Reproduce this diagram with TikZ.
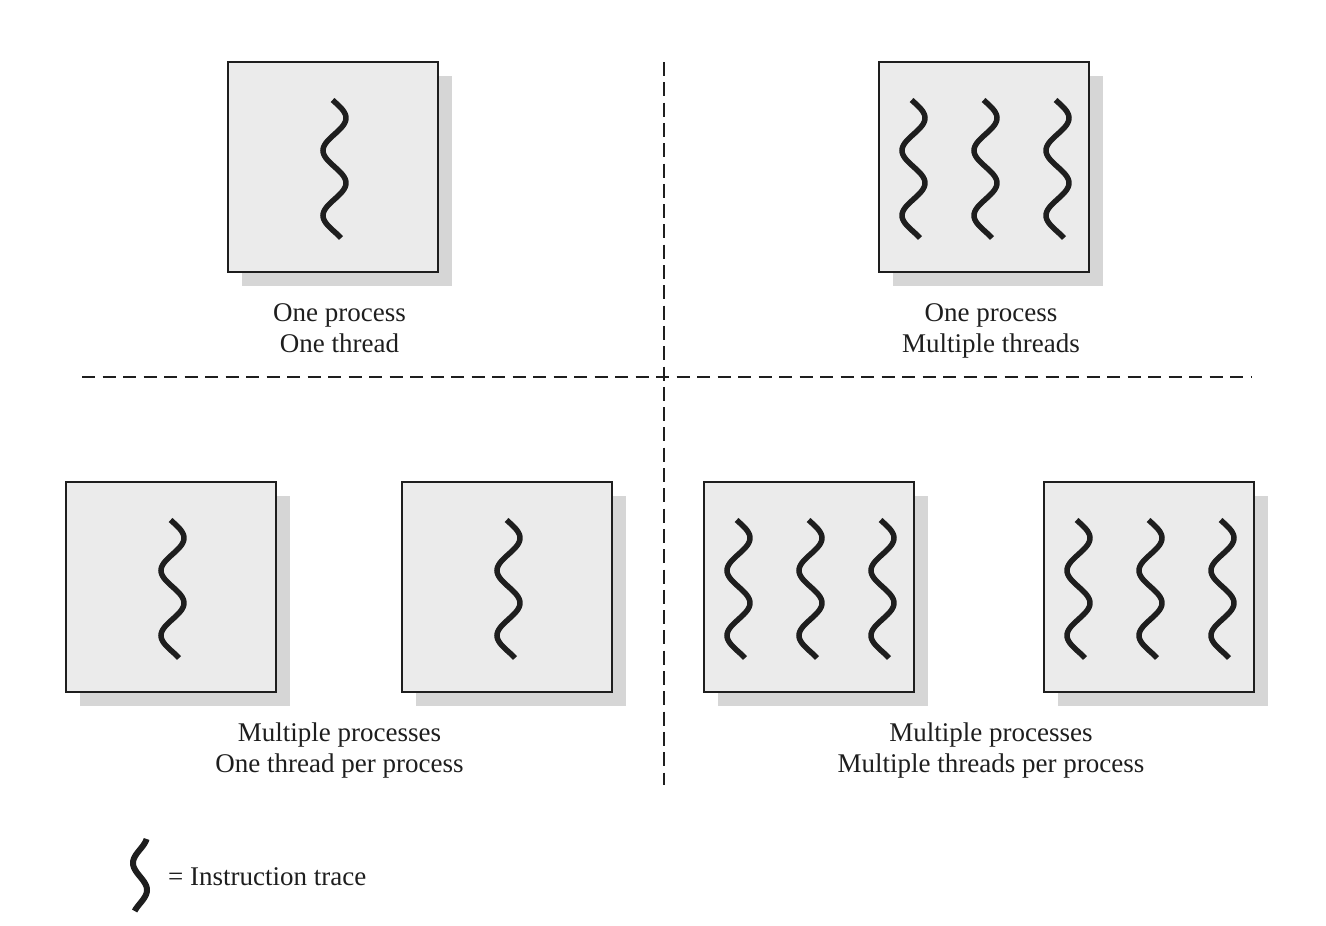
\documentclass[tikz,border=0pt]{standalone}
\usepackage{fontspec}
\setmainfont{Liberation Serif}
\usetikzlibrary{shadows,calc}
\definecolor{boxfill}{HTML}{EBEBEB}
\definecolor{shadowc}{HTML}{D6D6D6}
\definecolor{ink}{HTML}{1E1E1E}
\newcommand\itrace[1]{\draw[trace,shift={(#1)}] plot[domain=-67:71,samples=80,smooth] ({1.5+11.5*sin((\x+65.25)*5.538)},\x);}
\begin{document}
\begin{tikzpicture}[x=1pt,y=-1pt,
  proc/.style={draw=ink,line width=1.5pt,fill=boxfill,minimum width=210pt,minimum height=210pt,inner sep=0pt,
    drop shadow={shadow xshift=14pt,shadow yshift=-14pt,opacity=1,fill=shadowc}},
  trace/.style={draw=ink,line width=5.5pt},
  lbl/.style={font=\fontsize{27}{31}\selectfont,text=ink,inner sep=0pt,anchor=base},
  sep/.style={draw=ink,line width=1.4pt}]
\useasboundingbox (0,0) rectangle (1326,926);
% dividers
\coordinate (vt) at (664,62);
\coordinate (vb) at (664,785);
\coordinate (hl) at (82,377);
\coordinate (hr) at (1252,377);
\draw[sep,dash pattern=on 14pt off 6.3pt] (vt) -- (vb);
\draw[sep,dash pattern=on 13pt off 7.5pt] (hl) -- (hr);
% top left
\node[proc] (a) at (333,167) {};
\itrace{333,167}
\node[lbl] (la1) at (339.5,321) {One process};
\node[lbl] (la2) at (339.5,352) {One thread};
% top right
\node[proc] (b) at (984,167) {};
\itrace{912,167}
\itrace{984,167}
\itrace{1056,167}
\node[lbl] (lb1) at (991,321) {One process};
\node[lbl] (lb2) at (991,352) {Multiple threads};
% bottom left
\node[proc] (c1) at (171,587) {};
\node[proc] (c2) at (507,587) {};
\itrace{171,587}
\itrace{507,587}
\node[lbl] (lc1) at (339.5,741) {Multiple processes};
\node[lbl] (lc2) at (339.5,772) {One thread per process};
% bottom right
\node[proc] (d1) at (809,587) {};
\node[proc] (d2) at (1149,587) {};
\itrace{737,587}
\itrace{809,587}
\itrace{881,587}
\itrace{1077,587}
\itrace{1149,587}
\itrace{1221,587}
\node[lbl] (ld1) at (991,741) {Multiple processes};
\node[lbl] (ld2) at (991,772) {Multiple threads per process};
% legend
\draw[trace,line width=6pt] plot[domain=839:911,samples=60,smooth] ({140-7*sin((\x-849.5)*6.667)},\x);
\node[lbl,anchor=base west] (leg) at (168,885) {= Instruction trace};
\end{tikzpicture}
\end{document}
